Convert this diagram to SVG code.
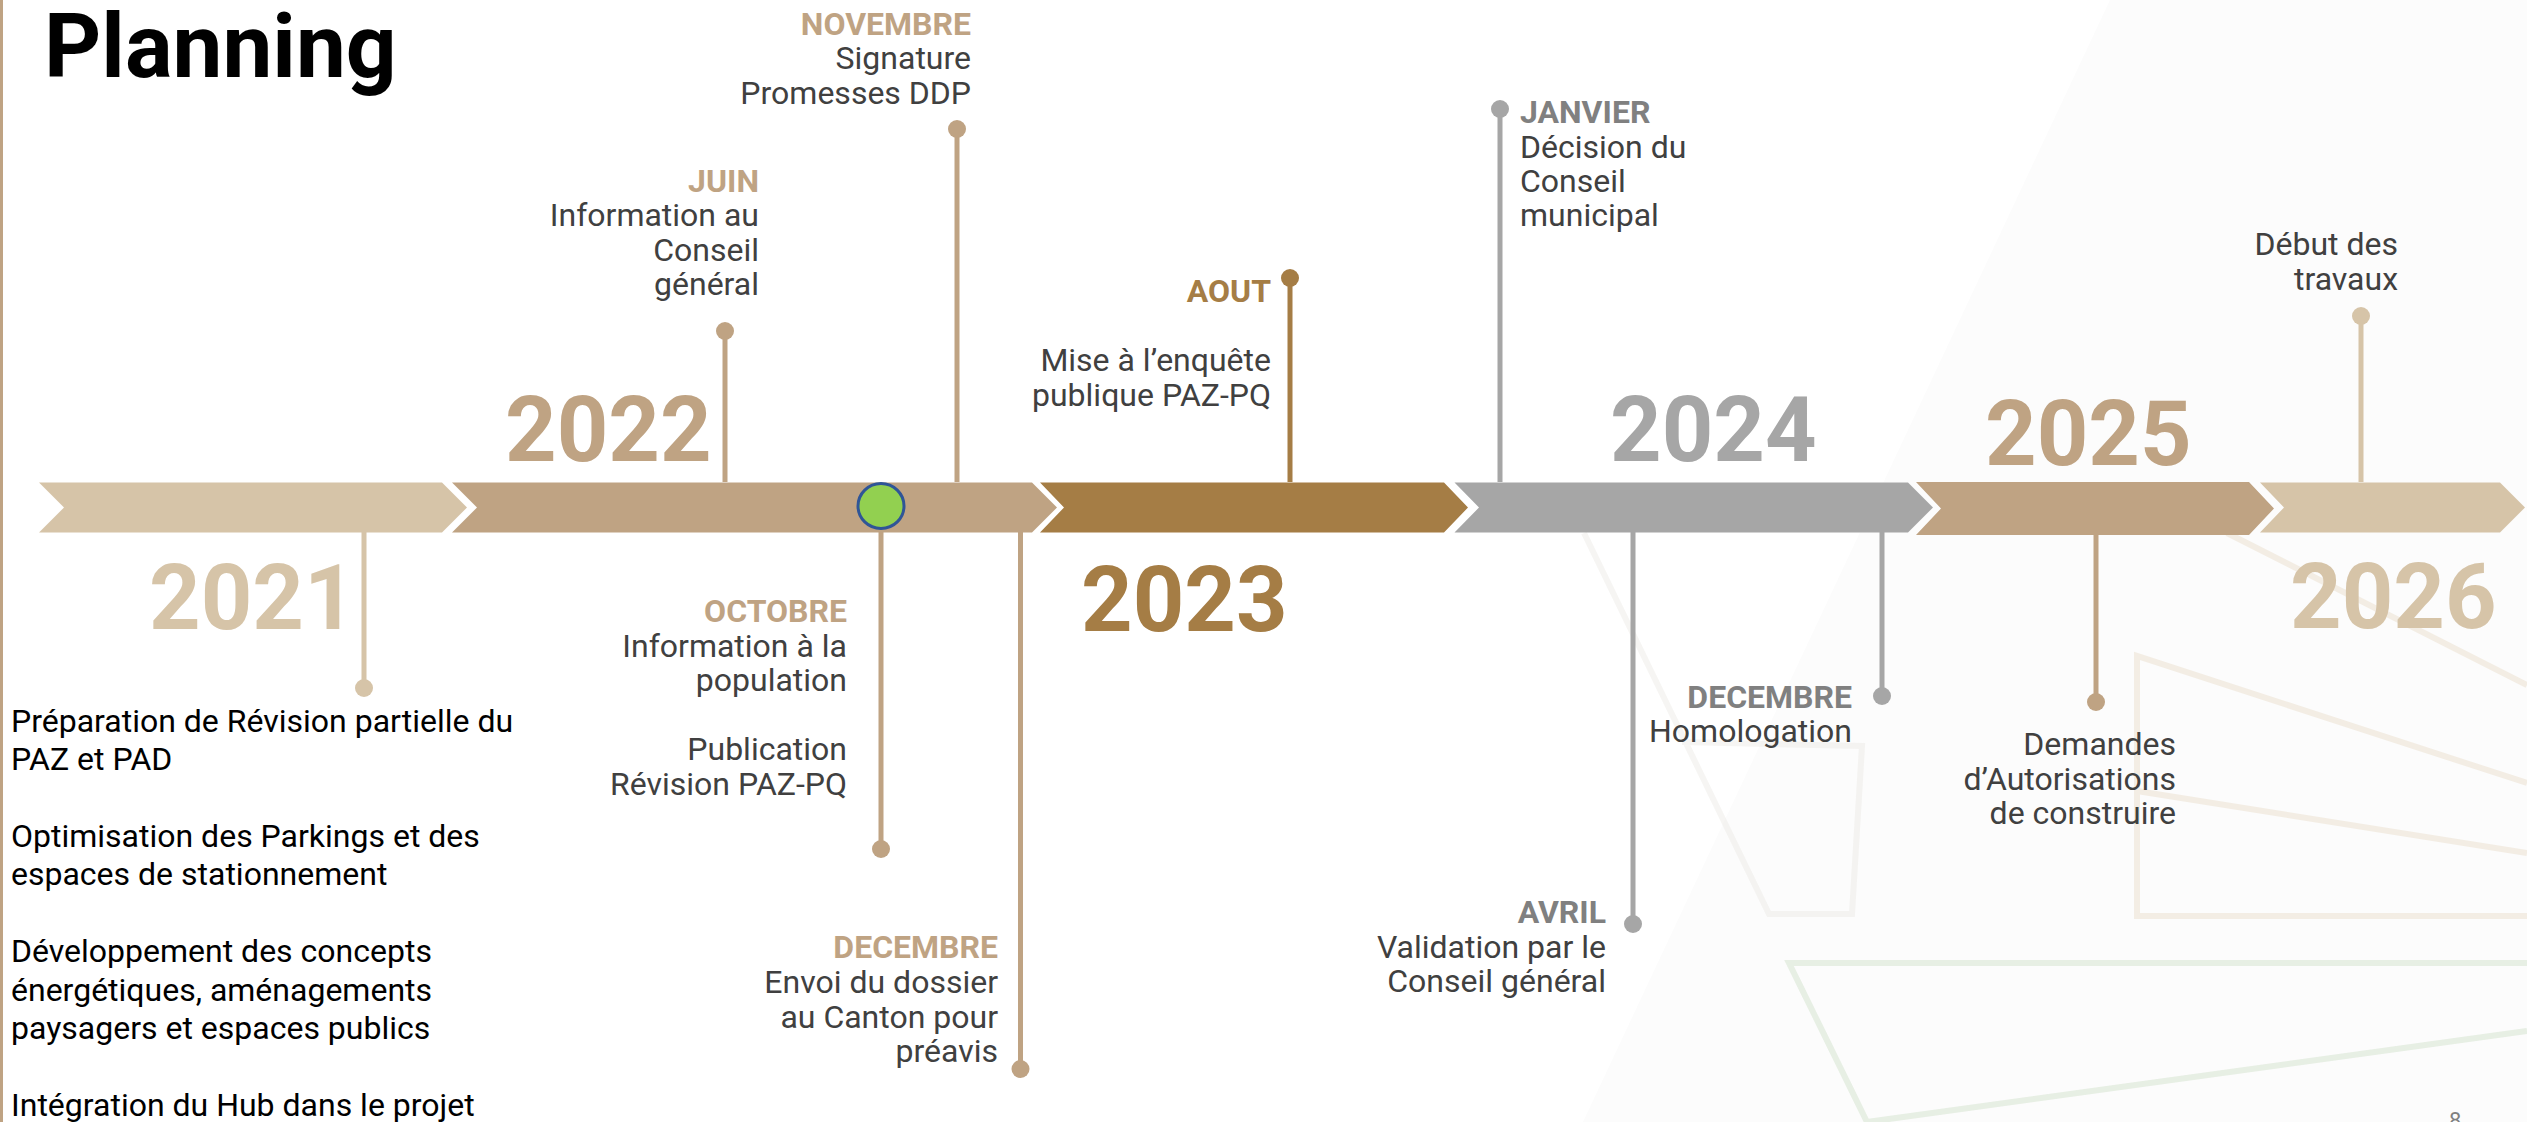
<svg xmlns="http://www.w3.org/2000/svg" width="2527" height="1122" viewBox="0 0 2527 1122">
<style>
text{font-family:Roboto,"Liberation Sans",sans-serif}
.title{font-size:89px;font-weight:700;fill:#000}
.yr{font-size:90px;font-weight:700}
.mo{font-size:32px;font-weight:700}
.tx{font-size:32px;fill:#404040}
.lt{font-size:32px;fill:#000}
.r{text-anchor:end}
.c1{fill:#D6C4A8}.c2{fill:#BFA383}.c3{fill:#A57D45}.c4{fill:#A6A6A6}.cg{fill:#808080}
.s1{stroke:#D6C4A8}.s2{stroke:#BFA383}.s3{stroke:#A57D45}.s4{stroke:#A6A6A6}
.stem{stroke-width:5;fill:none}
.bg{fill:none;stroke-width:6}
</style>
<rect width="2527" height="1122" fill="#FFFFFF"/>
<g id="background">
<polygon points="2110,0 2527,0 2527,1122 1583,1122" fill="#FCFCFC"/>
<g class="bg" stroke="#E9DCC8" opacity="0.45">
<polyline points="2527,783 2137,656 2137,916 2527,916"/>
<line x1="2137" y1="791" x2="2527" y2="853"/>
<line x1="2227" y1="533" x2="2527" y2="685"/>
</g>
<g class="bg" stroke="#E6E3DC" opacity="0.35">
<polyline points="1584,533 1769,914 1852,914 1862,746 1682,742"/>
</g>
<g class="bg" stroke="#D6E4CF" opacity="0.55">
<polyline points="2527,963 1789,963 1867,1122 2527,1031"/>
</g>
</g>
<rect x="0" y="0" width="3" height="1122" fill="#BFA383"/>
<g id="title"><text class="title" x="44" y="77">Planning</text></g>
<g id="connectors">
<line class="stem s1" x1="364" y1="532" x2="364" y2="688"/>
<circle class="c1" cx="364" cy="688" r="9"/>
<line class="stem s2" x1="725" y1="482" x2="725" y2="331"/>
<circle class="c2" cx="725" cy="331" r="9"/>
<line class="stem s2" x1="957" y1="482" x2="957" y2="129"/>
<circle class="c2" cx="957" cy="129" r="9"/>
<line class="stem s2" x1="881" y1="528" x2="881" y2="849"/>
<circle class="c2" cx="881" cy="849" r="9"/>
<line class="stem s2" x1="1020.5" y1="532" x2="1020.5" y2="1069"/>
<circle class="c2" cx="1020.5" cy="1069" r="9"/>
<line class="stem s3" x1="1290" y1="482" x2="1290" y2="278"/>
<circle class="c3" cx="1290" cy="278" r="9"/>
<line class="stem s4" x1="1500" y1="482" x2="1500" y2="109"/>
<circle class="c4" cx="1500" cy="109" r="9"/>
<line class="stem s4" x1="1633" y1="532" x2="1633" y2="924"/>
<circle class="c4" cx="1633" cy="924" r="9"/>
<line class="stem s4" x1="1882" y1="532" x2="1882" y2="696"/>
<circle class="c4" cx="1882" cy="696" r="9"/>
<line class="stem s2" x1="2096" y1="534" x2="2096" y2="702"/>
<circle class="c2" cx="2096" cy="702" r="9"/>
<line class="stem s1" x1="2361" y1="482" x2="2361" y2="316"/>
<circle class="c1" cx="2361" cy="316" r="9"/>
</g>
<g id="seg-2021"><polygon class="c1" points="39,482.5 442,482.5 467,507.5 442,532.5 39,532.5 64,507.5"/>
<text class="yr c1" x="149" y="629">2021</text></g>
<g id="seg-2022"><polygon class="c2" points="452,482.5 1032,482.5 1057,507.5 1032,532.5 452,532.5 477,507.5"/>
<text class="yr c2" x="505" y="461">2022</text></g>
<g id="seg-2023"><polygon class="c3" points="1040,482.5 1444,482.5 1468,507.5 1444,532.5 1040,532.5 1064,507.5"/>
<text class="yr c3" x="1081" y="631">2023</text></g>
<g id="seg-2024"><polygon class="c4" points="1454.5,482.5 1908,482.5 1933,507.5 1908,532.5 1454.5,532.5 1479,507.5"/>
<text class="yr c4" x="1610" y="461">2024</text></g>
<g id="seg-2025"><polygon class="c2" points="1916,482 2249,482 2274,508.5 2249,535 1916,535 1941,508.5"/>
<text class="yr c2" x="1985" y="465">2025</text></g>
<g id="seg-2026"><polygon class="c1" points="2260,482.5 2500,482.5 2525,507.5 2500,532.5 2260,532.5 2284,507.5"/>
<text class="yr c1" x="2290" y="628">2026</text></g>
<g id="milestone-green"><ellipse cx="881" cy="506" rx="23" ry="22.5" fill="#92D050" stroke="#2F5597" stroke-width="3"/></g>
<g id="text-2021">
<text class="lt" x="11" y="732">Préparation de Révision partielle du</text>
<text class="lt" x="11" y="770.3">PAZ et PAD</text>
<text class="lt" x="11" y="847">Optimisation des Parkings et des</text>
<text class="lt" x="11" y="885.4">espaces de stationnement</text>
<text class="lt" x="11" y="962">Développement des concepts</text>
<text class="lt" x="11" y="1000.6">énergétiques, aménagements</text>
<text class="lt" x="11" y="1039">paysagers et espaces publics</text>
<text class="lt" x="11" y="1115.8">Intégration du Hub dans le projet</text>
</g>
<g id="juin" class="r">
<text class="mo c2" x="759" y="191.7">JUIN</text>
<text class="tx" x="759" y="226">Information au</text>
<text class="tx" x="759" y="260.5">Conseil</text>
<text class="tx" x="759" y="295">général</text>
</g>
<g id="novembre" class="r">
<text class="mo c2" x="971" y="35">NOVEMBRE</text>
<text class="tx" x="971" y="69.3">Signature</text>
<text class="tx" x="971" y="103.6">Promesses DDP</text>
</g>
<g id="octobre" class="r">
<text class="mo c2" x="847" y="621.7">OCTOBRE</text>
<text class="tx" x="847" y="656.5">Information à la</text>
<text class="tx" x="847" y="691">population</text>
<text class="tx" x="847" y="760">Publication</text>
<text class="tx" x="847" y="795">Révision PAZ-PQ</text>
</g>
<g id="decembre-2022" class="r">
<text class="mo c2" x="998" y="958.3">DECEMBRE</text>
<text class="tx" x="998" y="993">Envoi du dossier</text>
<text class="tx" x="998" y="1027.5">au Canton pour</text>
<text class="tx" x="998" y="1062">préavis</text>
</g>
<g id="aout" class="r">
<text class="mo c3" x="1271" y="302">AOUT</text>
<text class="tx" x="1271" y="371">Mise à l’enquête</text>
<text class="tx" x="1271" y="405.5">publique PAZ-PQ</text>
</g>
<g id="janvier">
<text class="mo cg" x="1520" y="123.2">JANVIER</text>
<text class="tx" x="1520" y="157.6">Décision du</text>
<text class="tx" x="1520" y="192">Conseil</text>
<text class="tx" x="1520" y="226.4">municipal</text>
</g>
<g id="avril" class="r">
<text class="mo cg" x="1606" y="923">AVRIL</text>
<text class="tx" x="1606" y="957.5">Validation par le</text>
<text class="tx" x="1606" y="992">Conseil général</text>
</g>
<g id="decembre-2024" class="r">
<text class="mo cg" x="1852" y="708">DECEMBRE</text>
<text class="tx" x="1852" y="742">Homologation</text>
</g>
<g id="demandes" class="r">
<text class="tx" x="2176" y="755">Demandes</text>
<text class="tx" x="2176" y="790">d’Autorisations</text>
<text class="tx" x="2176" y="824">de construire</text>
</g>
<g id="debut" class="r">
<text class="tx" x="2398" y="255.4">Début des</text>
<text class="tx" x="2398" y="290">travaux</text>
</g>
<g id="page"><text x="2449" y="1128" font-size="22" fill="#808080">8</text></g>
</svg>
